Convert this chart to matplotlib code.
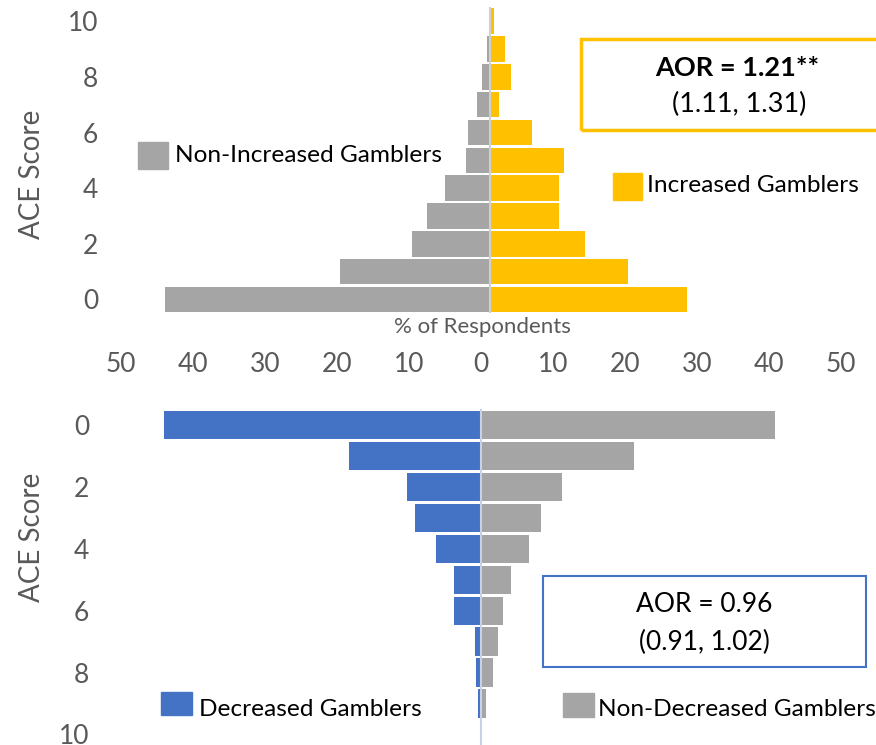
import matplotlib
matplotlib.use("Agg")
import matplotlib.pyplot as plt
from matplotlib.patches import Rectangle
from matplotlib.ticker import FuncFormatter

plt.rcParams['font.family'] = ['Lato', 'DejaVu Sans']

# ACE scores 0..10
ace_scores = [0, 1, 2, 3, 4, 5, 6, 7, 8, 9, 10]

# top panel (% of respondents)
non_increased = [45.1, 20.8, 10.8, 8.75, 6.25, 3.3, 3.05, 1.8, 1.07, 0.46, 0.1]
increased = [27.3, 19.2, 13.2, 9.6, 9.6, 10.3, 5.8, 1.3, 2.9, 2.1, 0.55]

# bottom panel (% of respondents)
decreased = [44.0, 18.4, 10.3, 9.2, 6.2, 3.8, 3.8, 0.9, 0.74, 0.37, 0.1]
non_decreased = [40.8, 21.3, 11.25, 8.3, 6.6, 4.1, 3.0, 2.3, 1.7, 0.74, 0.1]

x_ticks = [-50, -40, -30, -20, -10, 0, 10, 20, 30, 40, 50]
y_ticks = [0, 2, 4, 6, 8, 10]

GRAY = '#A5A5A5'
YELLOW = '#FFC000'
BLUE = '#4472C4'
TXT = '#595959'

W, H = 876, 745
fig = plt.figure(figsize=(W / 100, H / 100), dpi=100)


def px_box(x0, y0, x1, y1):
    # pixel box (top-left origin) -> figure fraction [left, bottom, width, height]
    return [x0 / W, 1 - y1 / H, (x1 - x0) / W, (y1 - y0) / H]


def fx(x):
    return x / W


def fy(y):
    return 1 - y / H


# ---- top panel ----
ax1 = fig.add_axes(px_box(130, 7.3, 850, 313.4))
ax1.barh(ace_scores, [-v for v in non_increased], height=0.92, color=GRAY)
ax1.barh(ace_scores, increased, height=0.92, color=YELLOW)
ax1.axvline(0, color='#D0D0D0', lw=1.5)
ax1.set_xlim(-50, 50)
ax1.set_ylim(-0.5, 10.5)
ax1.set_yticks(y_ticks)
ax1.set_xticks([])

# ---- bottom panel ----
ax2 = fig.add_axes(px_box(121, 409.3, 841, 745))
ax2.barh(ace_scores, [-v for v in decreased], height=0.91, color=BLUE)
ax2.barh(ace_scores, non_decreased, height=0.91, color=GRAY)
ax2.axvline(0, color='#C8D2E6', lw=1.5)
ax2.set_xlim(-50, 50)
ax2.set_ylim(10.34, -0.5)
ax2.set_yticks(y_ticks)
ax2.xaxis.tick_top()
ax2.set_xticks(x_ticks)
ax2.xaxis.set_major_formatter(FuncFormatter(lambda v, p: f"{abs(int(v))}"))

for ax in (ax1, ax2):
    for s in ax.spines.values():
        s.set_visible(False)
    ax.tick_params(axis='y', length=0, pad=23, labelsize=19, labelcolor=TXT)
    ax.tick_params(axis='x', length=0, pad=23, labelsize=19, labelcolor=TXT)

# y axis titles
fig.text(fx(32), fy(174), "ACE Score", fontsize=20, color=TXT, rotation=90,
         ha='center', va='center')
fig.text(fx(32), fy(537), "ACE Score", fontsize=20, color=TXT, rotation=90,
         ha='center', va='center')

fig.text(fx(482), fy(327), "% of Respondents", fontsize=16, color=TXT,
         ha='center', va='center')

# legend squares + labels
fig.patches.append(Rectangle((fx(138), fy(169)), fx(30), 27 / H, color=GRAY,
                             transform=fig.transFigure))
fig.text(fx(175), fy(156), "Non-Increased Gamblers", fontsize=17.6, va='center')
fig.patches.append(Rectangle((fx(613), fy(200)), fx(29), 27 / H, color=YELLOW,
                             transform=fig.transFigure))
fig.text(fx(647), fy(186), "Increased Gamblers", fontsize=17.6, va='center')
fig.patches.append(Rectangle((fx(161), fy(715)), fx(31), 23 / H, color=BLUE,
                             transform=fig.transFigure))
fig.text(fx(199), fy(709), "Decreased Gamblers", fontsize=17.6, va='center')
fig.patches.append(Rectangle((fx(563), fy(717)), fx(31), 24 / H, color=GRAY,
                             transform=fig.transFigure))
fig.text(fx(598), fy(709), "Non-Decreased Gamblers", fontsize=17.6, va='center')

# AOR boxes
fig.patches.append(Rectangle((fx(581), fy(130)), fx(320), 91 / H, fill=False,
                             edgecolor=YELLOW, lw=2.5, transform=fig.transFigure))
fig.text(fx(737), fy(68), "AOR = 1.21**", fontsize=19.5, fontweight='bold',
         ha='center', va='center')
fig.text(fx(739), fy(104), "(1.11, 1.31)", fontsize=19.5, ha='center', va='center')

fig.patches.append(Rectangle((fx(543), fy(667)), fx(323), 91 / H, fill=False,
                             edgecolor=BLUE, lw=1.5, transform=fig.transFigure))
fig.text(fx(704), fy(605), "AOR = 0.96", fontsize=19, ha='center', va='center')
fig.text(fx(704), fy(642), "(0.91, 1.02)", fontsize=19, ha='center', va='center')

fig.savefig("out.png", dpi=100)
